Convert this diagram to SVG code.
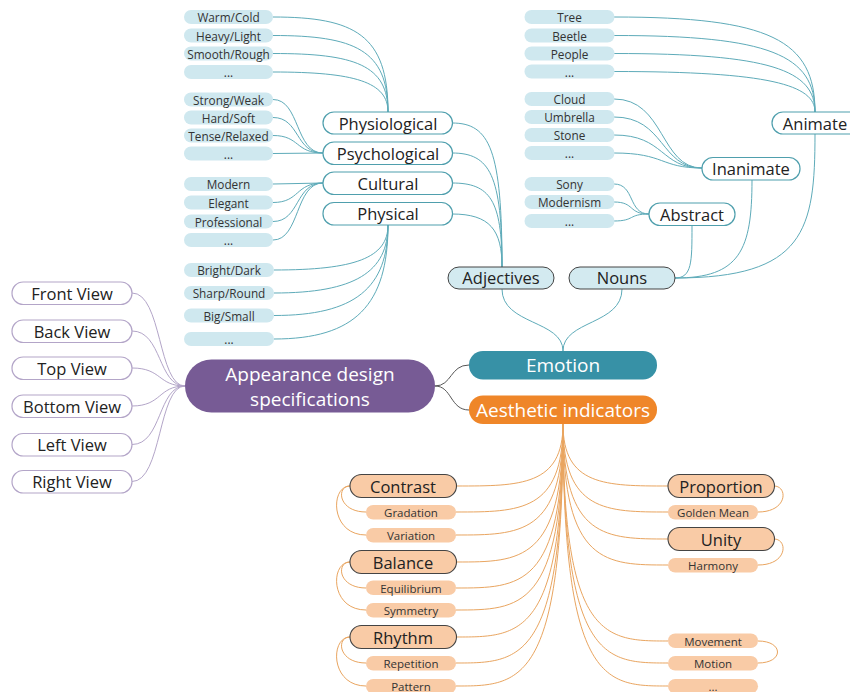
<svg xmlns="http://www.w3.org/2000/svg" width="850" height="692" viewBox="0 0 850 692">
  <style>
    text { font-family: "Open Sans", "Noto Sans", "Liberation Sans", sans-serif; text-anchor: middle; dominant-baseline: central; fill: #222; }
    .leafB rect { fill: #cfe8ef; }
    .leafB text { font-size: 11.8px; fill: #333; }
    .midB rect { fill: #fff; stroke: #4f9fad; stroke-width: 1.2; }
    .midB text { font-size: 16.5px; }
    .catB rect { fill: #d3eaf0; stroke: #444; stroke-width: 1; }
    .catB text { font-size: 16.5px; }
    .view rect { fill: #fff; stroke: #b3a5c8; stroke-width: 1.2; }
    .view text { font-size: 16.5px; }
    .leafO rect { fill: #f9cba6; }
    .leafO text { font-size: 11.5px; fill: #333; }
    .catO rect { fill: #f9cba6; stroke: #444; stroke-width: 1.1; }
    .catO text { font-size: 16.5px; }
    .root text { fill: #fff; font-size: 19px; }
    .c { fill: none; stroke-width: 1; }
    .teal { stroke: #5eabb9; }
    .ora { stroke: #e9a560; }
    .pur { stroke: #b3a5c8; }
    .dark { stroke: #555; }
  </style>

  <!-- connectors -->
  <g id="connectors">
    <!-- physiological leaves -->
    <path class="c teal" d="M273 17 C355 17 388 35 388 112"/>
    <path class="c teal" d="M273 35.5 C355 35.5 388 50 388 112"/>
    <path class="c teal" d="M273 53.5 C355 53.5 388 65 388 112"/>
    <path class="c teal" d="M273 72 C355 72 388 82 388 112"/>
    <!-- psychological leaves -->
    <path class="c teal" d="M273 99.5 C300 99.5 295 153 323 153"/>
    <path class="c teal" d="M273 117.5 C300 117.5 295 153 323 153"/>
    <path class="c teal" d="M273 135.5 C300 135.5 295 153 323 153"/>
    <path class="c teal" d="M273 153.5 L323 153"/>
    <!-- cultural leaves -->
    <path class="c teal" d="M273 184 L323 183"/>
    <path class="c teal" d="M273 202.5 C300 202.5 295 183 323 183"/>
    <path class="c teal" d="M273 221.5 C300 221.5 295 183 323 183"/>
    <path class="c teal" d="M273 240 C300 240 295 183 323 183"/>
    <!-- physical leaves -->
    <path class="c teal" d="M274 270 C355 270 388 258 388 225"/>
    <path class="c teal" d="M274 293 C355 293 388 272 388 225"/>
    <path class="c teal" d="M274 315.5 C355 315.5 388 288 388 225"/>
    <path class="c teal" d="M274 339 C355 339 388 305 388 225"/>
    <!-- adjective branches -->
    <path class="c teal" d="M452 123 C490 123 502 150 502 267"/>
    <path class="c teal" d="M452 153 C490 153 502 175 502 267"/>
    <path class="c teal" d="M452 183 C490 183 502 200 502 267"/>
    <path class="c teal" d="M452 214 C490 214 502 230 502 267"/>
    <!-- animate leaves -->
    <path class="c teal" d="M614 17 C770 17 815 40 815 112"/>
    <path class="c teal" d="M614 35.5 C770 35.5 815 55 815 112"/>
    <path class="c teal" d="M614 53.5 C770 53.5 815 70 815 112"/>
    <path class="c teal" d="M614 71.5 C770 71.5 815 85 815 112"/>
    <!-- inanimate leaves -->
    <path class="c teal" d="M614 99 C665 99 660 168 702 168"/>
    <path class="c teal" d="M614 117 C665 117 660 168 702 168"/>
    <path class="c teal" d="M614 135 C665 135 660 168 702 168"/>
    <path class="c teal" d="M614 153 C665 153 660 168 702 168"/>
    <!-- abstract leaves -->
    <path class="c teal" d="M614 184 C635 184 628 214 649 214"/>
    <path class="c teal" d="M614 202 C635 202 628 214 649 214"/>
    <path class="c teal" d="M614 221 C635 221 628 214 649 214"/>
    <!-- nouns branches -->
    <path class="c teal" d="M675 278 C692 278 692 262 692 226"/>
    <path class="c teal" d="M675 278 C740 278 752 250 752 180"/>
    <path class="c teal" d="M675 278 C805 278 815 230 815 134"/>
    <!-- adjectives / nouns to emotion -->
    <path class="c teal" d="M502 289 C502 325 563 320 563 351"/>
    <path class="c teal" d="M622 289 C622 325 563 320 563 351"/>
    <!-- root to main branches -->
    <path class="c dark" d="M435 386 C452 386 450 365 469 365"/>
    <path class="c dark" d="M435 386 C452 386 450 410 469 410"/>
    <!-- views -->
    <path class="c pur" d="M132 293 C162 293 158 386 185 386"/>
    <path class="c pur" d="M132 331 C162 331 158 386 185 386"/>
    <path class="c pur" d="M132 368 C162 368 158 386 185 386"/>
    <path class="c pur" d="M132 406 C162 406 158 386 185 386"/>
    <path class="c pur" d="M132 444.5 C162 444.5 158 386 185 386"/>
    <path class="c pur" d="M132 481.5 C162 481.5 158 386 185 386"/>
    <!-- aesthetic indicators, left -->
    <path class="c ora" d="M563 424 C563 486 520 486 457 486"/>
    <path class="c ora" d="M563 424 C563 512 520 512 456 512"/>
    <path class="c ora" d="M563 424 C563 535 520 535 456 535"/>
    <path class="c ora" d="M563 424 C563 562 520 562 457 562"/>
    <path class="c ora" d="M563 424 C563 588 520 588 456 588"/>
    <path class="c ora" d="M563 424 C563 610 520 610 456 610"/>
    <path class="c ora" d="M563 424 C563 637 520 637 457 637"/>
    <path class="c ora" d="M563 424 C563 663 520 663 456 663"/>
    <path class="c ora" d="M563 424 C563 686 520 686 456 686"/>
    <!-- aesthetic indicators, right -->
    <path class="c ora" d="M563 424 C563 486 606 486 668 486"/>
    <path class="c ora" d="M563 424 C563 512 606 512 668 512"/>
    <path class="c ora" d="M563 424 C563 539 606 539 668 539"/>
    <path class="c ora" d="M563 424 C563 565 606 565 668 565"/>
    <path class="c ora" d="M563 424 C563 641 606 641 668 641"/>
    <path class="c ora" d="M563 424 C563 663 606 663 668 663"/>
    <path class="c ora" d="M563 424 C563 686 606 686 668 686"/>
    <!-- sub-links -->
    <path class="c ora" d="M350 486 C336 486 338 512 366 512"/>
    <path class="c ora" d="M350 486 C330 486 330 535 366 535"/>
    <path class="c ora" d="M350 562 C336 562 338 588 366 588"/>
    <path class="c ora" d="M350 562 C330 562 330 610 366 610"/>
    <path class="c ora" d="M350 637 C336 637 338 663 366 663"/>
    <path class="c ora" d="M350 637 C330 637 330 686 366 686"/>
    <path class="c ora" d="M774 486 C788 486 788 512 758 512"/>
    <path class="c ora" d="M774 539 C788 539 788 565 758 565"/>
    <path class="c ora" d="M758 641 C784 641 784 663 758 663"/>
  </g>

  <!-- root -->
  <g id="root" class="root">
    <rect x="185" y="359.5" width="250" height="53" rx="26.5" fill="#775b95"/>
    <text x="310" y="373.5">Appearance design</text>
    <text x="310" y="398.5">specifications</text>
  </g>
  <g id="emotion" class="root">
    <rect x="469" y="351" width="188" height="28.5" rx="14" fill="#3791a6"/>
    <text x="563" y="364.5">Emotion</text>
  </g>
  <g id="aesthetic" class="root">
    <rect x="469" y="395.5" width="188" height="28.5" rx="14" fill="#ef8629"/>
    <text x="563" y="409.5">Aesthetic indicators</text>
  </g>

  <!-- views -->
  <g id="front-view" class="view"><rect x="12" y="282" width="120" height="22.5" rx="11.2"/><text x="72" y="293">Front View</text></g>
  <g id="back-view" class="view"><rect x="12" y="320" width="120" height="22.5" rx="11.2"/><text x="72" y="331">Back View</text></g>
  <g id="top-view" class="view"><rect x="12" y="357" width="120" height="22.5" rx="11.2"/><text x="72" y="368">Top View</text></g>
  <g id="bottom-view" class="view"><rect x="12" y="395" width="120" height="22.5" rx="11.2"/><text x="72" y="406">Bottom View</text></g>
  <g id="left-view" class="view"><rect x="12" y="433.5" width="120" height="22.5" rx="11.2"/><text x="72" y="444.5">Left View</text></g>
  <g id="right-view" class="view"><rect x="12" y="470.5" width="120" height="22.5" rx="11.2"/><text x="72" y="481.5">Right View</text></g>

  <!-- adjective categories -->
  <g id="physiological" class="midB"><rect x="323" y="112" width="129.5" height="22" rx="11"/><text x="388" y="123">Physiological</text></g>
  <g id="psychological" class="midB"><rect x="323" y="142" width="129.5" height="22.5" rx="11"/><text x="388" y="153">Psychological</text></g>
  <g id="cultural" class="midB"><rect x="323" y="172" width="129.5" height="22.5" rx="11"/><text x="388" y="183">Cultural</text></g>
  <g id="physical" class="midB"><rect x="323" y="202.5" width="129.5" height="22.5" rx="11"/><text x="388" y="213.5">Physical</text></g>

  <g id="adjectives" class="catB"><rect x="448" y="267" width="106" height="22" rx="11"/><text x="501" y="277.5">Adjectives</text></g>
  <g id="nouns" class="catB"><rect x="569" y="267" width="106" height="22" rx="11"/><text x="622" y="277.5">Nouns</text></g>

  <!-- noun categories -->
  <g id="animate" class="midB"><rect x="772" y="112" width="100" height="22" rx="11"/><text x="815" y="123">Animate</text></g>
  <g id="inanimate" class="midB"><rect x="702" y="157.5" width="98" height="22.5" rx="11"/><text x="751" y="168.5">Inanimate</text></g>
  <g id="abstract" class="midB"><rect x="649" y="203" width="86" height="22.5" rx="11"/><text x="692" y="214">Abstract</text></g>

  <!-- physiological leaves -->
  <g id="warm-cold" class="leafB"><rect x="184" y="10" width="89" height="14" rx="7"/><text x="228.5" y="17">Warm/Cold</text></g>
  <g id="heavy-light" class="leafB"><rect x="184" y="28.5" width="89" height="14" rx="7"/><text x="228.5" y="35.5">Heavy/Light</text></g>
  <g id="smooth-rough" class="leafB"><rect x="184" y="46.5" width="89" height="14" rx="7"/><text x="228.5" y="53.5">Smooth/Rough</text></g>
  <g id="physio-more" class="leafB"><rect x="184" y="65" width="89" height="14" rx="7"/><text x="228.5" y="72">...</text></g>
  <!-- psychological leaves -->
  <g id="strong-weak" class="leafB"><rect x="184" y="92.5" width="89" height="14" rx="7"/><text x="228.5" y="99.5">Strong/Weak</text></g>
  <g id="hard-soft" class="leafB"><rect x="184" y="110.5" width="89" height="14" rx="7"/><text x="228.5" y="117.5">Hard/Soft</text></g>
  <g id="tense-relaxed" class="leafB"><rect x="184" y="128.5" width="89" height="14" rx="7"/><text x="228.5" y="135.5">Tense/Relaxed</text></g>
  <g id="psycho-more" class="leafB"><rect x="184" y="146.5" width="89" height="14" rx="7"/><text x="228.5" y="153.5">...</text></g>
  <!-- cultural leaves -->
  <g id="modern" class="leafB"><rect x="184" y="177" width="89" height="14" rx="7"/><text x="228.5" y="184">Modern</text></g>
  <g id="elegant" class="leafB"><rect x="184" y="195.5" width="89" height="14" rx="7"/><text x="228.5" y="202.5">Elegant</text></g>
  <g id="professional" class="leafB"><rect x="184" y="214.5" width="89" height="14" rx="7"/><text x="228.5" y="221.5">Professional</text></g>
  <g id="cultural-more" class="leafB"><rect x="184" y="233" width="89" height="14" rx="7"/><text x="228.5" y="240">...</text></g>
  <!-- physical leaves -->
  <g id="bright-dark" class="leafB"><rect x="184" y="263" width="90" height="14" rx="7"/><text x="229" y="270">Bright/Dark</text></g>
  <g id="sharp-round" class="leafB"><rect x="184" y="286" width="90" height="14" rx="7"/><text x="229" y="293">Sharp/Round</text></g>
  <g id="big-small" class="leafB"><rect x="184" y="308.5" width="90" height="14" rx="7"/><text x="229" y="315.5">Big/Small</text></g>
  <g id="physical-more" class="leafB"><rect x="184" y="332" width="90" height="14" rx="7"/><text x="229" y="339">...</text></g>

  <!-- animate leaves -->
  <g id="tree" class="leafB"><rect x="524.5" y="10" width="90" height="14" rx="7"/><text x="569.5" y="17">Tree</text></g>
  <g id="beetle" class="leafB"><rect x="524.5" y="28.5" width="90" height="14" rx="7"/><text x="569.5" y="35.5">Beetle</text></g>
  <g id="people" class="leafB"><rect x="524.5" y="46.5" width="90" height="14" rx="7"/><text x="569.5" y="53.5">People</text></g>
  <g id="animate-more" class="leafB"><rect x="524.5" y="64.5" width="90" height="14" rx="7"/><text x="569.5" y="71.5">...</text></g>
  <!-- inanimate leaves -->
  <g id="cloud" class="leafB"><rect x="524.5" y="92" width="90" height="14" rx="7"/><text x="569.5" y="99">Cloud</text></g>
  <g id="umbrella" class="leafB"><rect x="524.5" y="110" width="90" height="14" rx="7"/><text x="569.5" y="117">Umbrella</text></g>
  <g id="stone" class="leafB"><rect x="524.5" y="128" width="90" height="14" rx="7"/><text x="569.5" y="135">Stone</text></g>
  <g id="inanimate-more" class="leafB"><rect x="524.5" y="146" width="90" height="14" rx="7"/><text x="569.5" y="153">...</text></g>
  <!-- abstract leaves -->
  <g id="sony" class="leafB"><rect x="524.5" y="177" width="90" height="14" rx="7"/><text x="569.5" y="184">Sony</text></g>
  <g id="modernism" class="leafB"><rect x="524.5" y="195" width="90" height="14" rx="7"/><text x="569.5" y="202">Modernism</text></g>
  <g id="abstract-more" class="leafB"><rect x="524.5" y="214" width="90" height="14" rx="7"/><text x="569.5" y="221">...</text></g>

  <!-- aesthetic indicator categories -->
  <g id="contrast" class="catO"><rect x="350" y="474.5" width="106.5" height="23" rx="11.5"/><text x="403" y="486">Contrast</text></g>
  <g id="balance" class="catO"><rect x="350" y="550.5" width="106.5" height="23" rx="11.5"/><text x="403" y="562">Balance</text></g>
  <g id="rhythm" class="catO"><rect x="350" y="625.5" width="106.5" height="23" rx="11.5"/><text x="403" y="637">Rhythm</text></g>
  <g id="proportion" class="catO"><rect x="668" y="474.5" width="106.5" height="23" rx="11.5"/><text x="721" y="486">Proportion</text></g>
  <g id="unity" class="catO"><rect x="668" y="527.5" width="106.5" height="23" rx="11.5"/><text x="721" y="539">Unity</text></g>

  <!-- aesthetic indicator leaves -->
  <g id="gradation" class="leafO"><rect x="366" y="505" width="90" height="14.5" rx="7.2"/><text x="411" y="512">Gradation</text></g>
  <g id="variation" class="leafO"><rect x="366" y="528" width="90" height="14.5" rx="7.2"/><text x="411" y="535">Variation</text></g>
  <g id="equilibrium" class="leafO"><rect x="366" y="580.5" width="90" height="14.5" rx="7.2"/><text x="411" y="588">Equilibrium</text></g>
  <g id="symmetry" class="leafO"><rect x="366" y="603" width="90" height="14.5" rx="7.2"/><text x="411" y="610">Symmetry</text></g>
  <g id="repetition" class="leafO"><rect x="366" y="656" width="90" height="14.5" rx="7.2"/><text x="411" y="663">Repetition</text></g>
  <g id="pattern" class="leafO"><rect x="366" y="679" width="90" height="14.5" rx="7.2"/><text x="411" y="686">Pattern</text></g>
  <g id="golden-mean" class="leafO"><rect x="668" y="505" width="90" height="14.5" rx="7.2"/><text x="713" y="512">Golden Mean</text></g>
  <g id="harmony" class="leafO"><rect x="668" y="558" width="90" height="14.5" rx="7.2"/><text x="713" y="565.5">Harmony</text></g>
  <g id="movement" class="leafO"><rect x="668" y="633.5" width="90" height="14.5" rx="7.2"/><text x="713" y="641">Movement</text></g>
  <g id="motion" class="leafO"><rect x="668" y="656" width="90" height="14.5" rx="7.2"/><text x="713" y="663">Motion</text></g>
  <g id="movement-more" class="leafO"><rect x="668" y="679" width="90" height="14.5" rx="7.2"/><text x="713" y="686">...</text></g>
</svg>
